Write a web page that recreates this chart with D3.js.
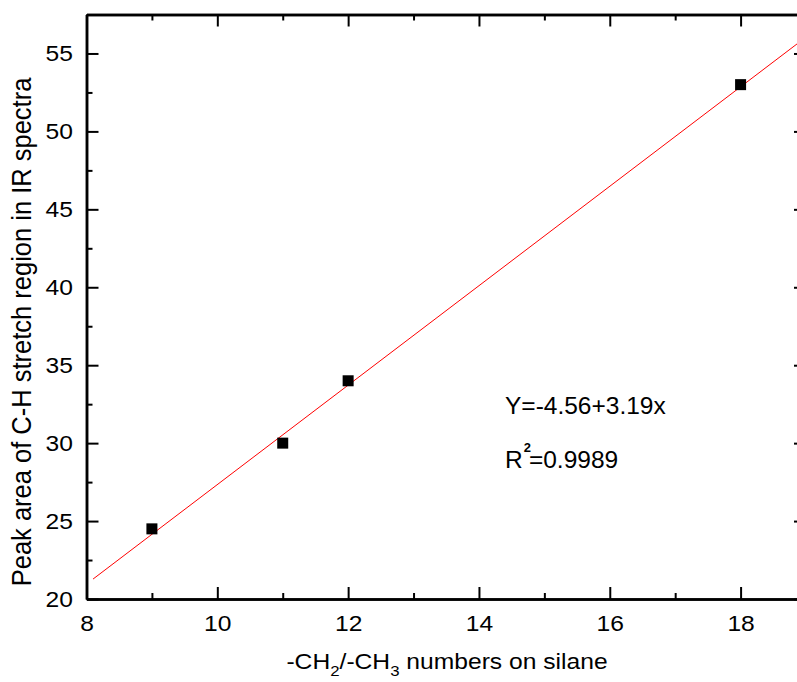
<!DOCTYPE html>
<html>
<head>
<meta charset="utf-8">
<script src="https://cdn.jsdelivr.net/npm/d3@7"></script>
<style>
  body { margin: 0; background: #fff; }
  text { font-family: "Liberation Sans", Arial, sans-serif; fill: #000; }
</style>
</head>
<body>
<svg id="chart" width="797" height="682"></svg>
<script>
// data
var chainNumbers = [9, 11, 12, 18];
var peakAreas = [24.5, 30, 34, 53];
var fitIntercept = -4.56,
   fitSlope = 3.19;
var xTicks = [8, 10, 12, 14, 16, 18];
var yTicks = [20, 25, 30, 35, 40, 45, 50, 55];

var plotLeft = 86.5,
   plotRight = 806, // right frame sits just outside the picture
   plotTop = 14.5,
   plotBottom = 599,
   sx = 1.12; // text in the original is slightly stretched sideways

var svg = d3.select("svg#chart");

var x = d3.scaleLinear().domain([8, 19]).range([plotLeft, plotRight]);
var y = d3.scaleLinear().domain([20, 57.5]).range([plotBottom, plotTop]);

var xMinor = d3.range(9, 20, 2);
var yMinor = d3.range(22.5, 58, 5);

// frame axes: ticks point inward
function drawAxis(axis, transform) {
   var g = svg.append("g").attr("transform", transform).call(axis);
   g.select(".domain").attr("stroke-width", 2.5);
   g.selectAll(".tick line").attr("stroke-width", 2);
   g.selectAll(".tick text").attr("font-size", 22);
   return g;
}

// bottom
var gb = drawAxis(d3.axisBottom(x).tickValues(xTicks).tickSize(-12).tickSizeOuter(0), "translate(0," + plotBottom + ")");
gb.selectAll(".tick text").attr("y", 32).attr("dy", null).attr("transform", "scale(" + sx + ",1)");
drawAxis(d3.axisBottom(x).tickValues(xMinor).tickSize(-6).tickFormat("").tickSizeOuter(0), "translate(0," + plotBottom + ")");
// top
drawAxis(d3.axisTop(x).tickValues(xTicks).tickSize(-12).tickFormat("").tickSizeOuter(0), "translate(0," + plotTop + ")");
drawAxis(d3.axisTop(x).tickValues(xMinor).tickSize(-6).tickFormat("").tickSizeOuter(0), "translate(0," + plotTop + ")");
// left
var gl = drawAxis(d3.axisLeft(y).tickValues(yTicks).tickSize(-12).tickSizeOuter(0), "translate(" + plotLeft + ",0)");
gl.selectAll(".tick text").attr("x", -13.5 / sx).attr("transform", "scale(" + sx + ",1)");
drawAxis(d3.axisLeft(y).tickValues(yMinor).tickSize(-6).tickFormat("").tickSizeOuter(0), "translate(" + plotLeft + ",0)");
// right
drawAxis(d3.axisRight(y).tickValues(yTicks).tickSize(-12).tickFormat("").tickSizeOuter(0), "translate(" + plotRight + ",0)");
drawAxis(d3.axisRight(y).tickValues(yMinor).tickSize(-6).tickFormat("").tickSizeOuter(0), "translate(" + plotRight + ",0)");

// fitted line
var fitX = [8.1, 19];
svg.append("path")
   .datum(fitX)
   .attr("fill", "none")
   .attr("stroke", "#ff0000")
   .attr("stroke-width", 1)
   .attr("d", d3.line().x(d => x(d)).y(d => y(fitIntercept + fitSlope * d)));

// points
var pts = chainNumbers.map((d, i) => ({ x: d, y: peakAreas[i] }));
svg.selectAll("rect.pt")
   .data(pts)
   .enter()
   .append("rect")
   .attr("class", "pt")
   .attr("x", d => x(d.x) - 5.5)
   .attr("y", d => y(d.y) - 5.5)
   .attr("width", 11)
   .attr("height", 11)
   .attr("fill", "#000");

// equation text
svg.append("text")
   .attr("x", 505)
   .attr("y", 414)
   .attr("font-size", 24.5)
   .text("Y=-4.56+3.19x");

var r2 = svg.append("text").attr("x", 505).attr("y", 468).attr("font-size", 24.5);
r2.append("tspan").text("R");
r2.append("tspan").attr("font-size", 13).attr("font-weight", "bold").attr("dx", 1).attr("dy", -16).text("2");
r2.append("tspan").attr("dx", -2).attr("dy", 16).text("=0.9989");

// axis titles
var xt = svg.append("text")
   .attr("transform", "translate(447,669) scale(" + sx + ",1)")
   .attr("text-anchor", "middle")
   .attr("font-size", 22);
xt.append("tspan").text("-CH");
xt.append("tspan").attr("font-size", 15).attr("dy", 7).text("2");
xt.append("tspan").attr("dy", -7).text("/-CH");
xt.append("tspan").attr("font-size", 15).attr("dy", 7).text("3");
xt.append("tspan").attr("dy", -7).text(" numbers on silane");

svg.append("text")
   .attr("transform", "translate(31,332) rotate(-90) scale(1," + sx + ")")
   .attr("text-anchor", "middle")
   .attr("font-size", 25.5)
   .text("Peak area of C-H stretch region in IR spectra");
</script>
</body>
</html>
